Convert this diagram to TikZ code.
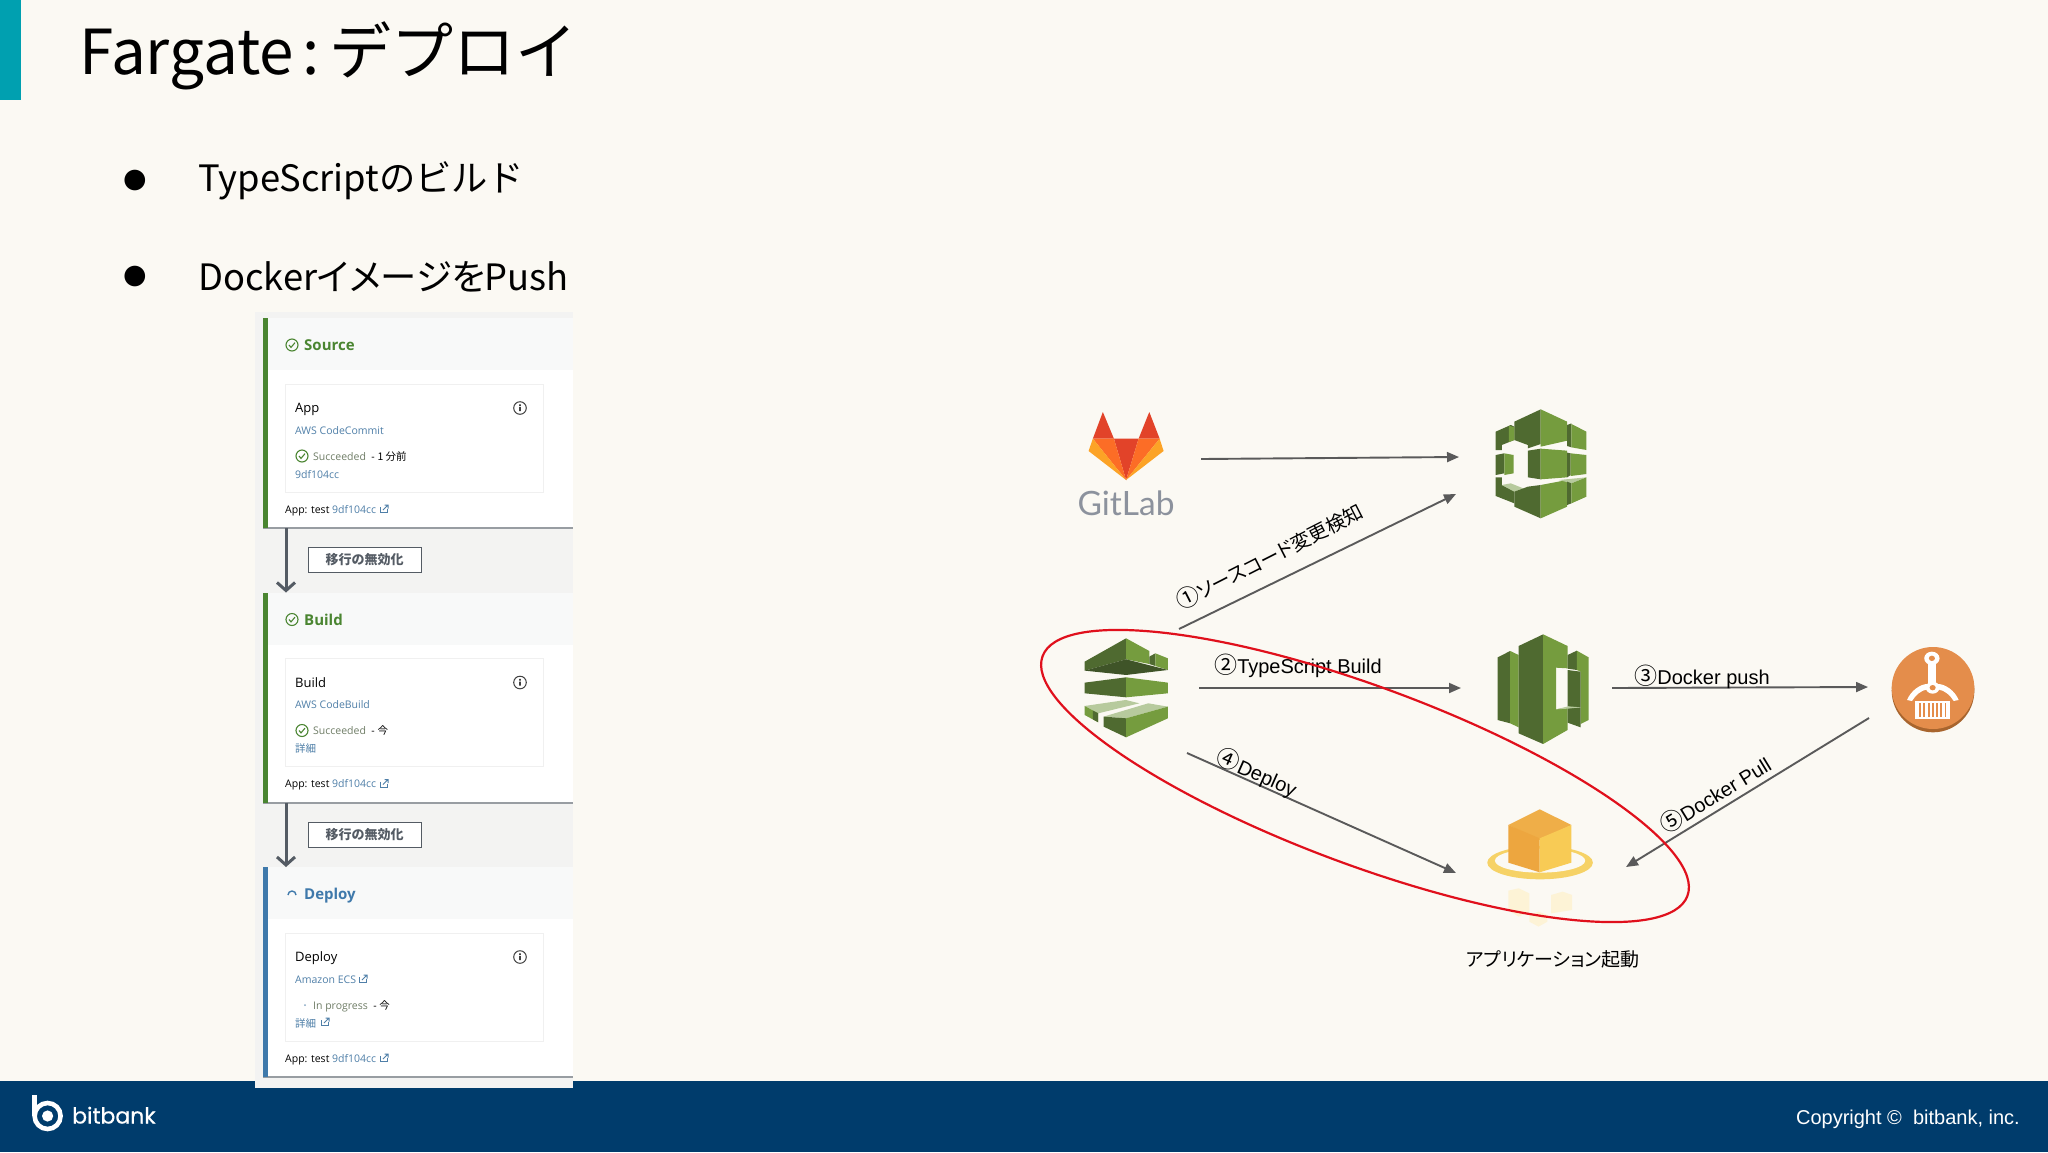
\documentclass[tikz,border=0pt]{standalone}
\usepackage{fontspec}
\usetikzlibrary{arrows.meta,shapes.geometric}
\setmainfont{Liberation Sans}
\newfontfamily\jpfont{Noto Sans CJK JP}
\newfontfamily\jppfont[RawFeature=+palt]{Noto Sans CJK JP}
\newfontfamily\uifont{Open Sans}
\newfontfamily\logofont[FakeBold=.5]{Poppins}
\newfontfamily\gitfont{Lato}
\newfontfamily\symfont{DejaVu Sans}
\newcommand{\fs}[1]{\fontsize{#1}{#1}\selectfont}
\newcommand{\jp}[1]{{\jppfont #1}}
\newcommand{\num}[1]{{\jpfont\fs{23}#1}}
\newcommand{\facet}[2]{\fill[#1] #2 -- cycle;}
\definecolor{paper}{HTML}{FBF9F3}
\definecolor{teal}{HTML}{00A0B0}
\definecolor{navy}{HTML}{003C6C}
\definecolor{panelshade}{HTML}{F3F3F2}
\definecolor{headfill}{HTML}{F8F9F9}
\definecolor{stagegreen}{HTML}{4A8531}
\definecolor{stageblue}{HTML}{3F79AB}
\definecolor{linkblue}{HTML}{4F7FA8}
\definecolor{okgray}{HTML}{6F7D66}
\definecolor{uigray}{HTML}{545B64}
\definecolor{flowgray}{HTML}{5A5A5A}
\definecolor{gitgray}{HTML}{8C929D}
\definecolor{leaflight}{HTML}{759C3E}
\definecolor{leafdark}{HTML}{4F6A30}
\definecolor{leafdeep}{HTML}{3F5428}
\definecolor{leafpale}{HTML}{B7CA9D}
\definecolor{foxred}{HTML}{E24329}
\definecolor{foxmid}{HTML}{FC6D26}
\definecolor{foxpale}{HTML}{FCA326}
\definecolor{robot}{HTML}{E48D4B}
\definecolor{robotdark}{HTML}{A8652E}
\definecolor{cubetop}{HTML}{EFAE48}
\definecolor{cubeleft}{HTML}{EDA63F}
\definecolor{cuberight}{HTML}{F8CB55}
\definecolor{halo}{HTML}{F6D266}
\definecolor{fade}{HTML}{FDF3D6}
\definecolor{ringred}{HTML}{E0101C}
\tikzset{
  flow/.style={draw=flowgray,line width=1.9pt,-{Triangle[length=12pt,width=10pt]}},
  flowtext/.style={inner sep=0pt,black},
  uitext/.style={inner sep=0pt,anchor=base west,font=\uifont\fs{10.5}},
  okmark/.pic={\draw[stagegreen,line width=1.1pt] (0,0) circle (6);
    \draw[stagegreen,line width=1.1pt] (-3,0) -- (-1,2.4) -- (3,-2.4);},
  infomark/.pic={\draw[black!75,line width=1pt] (0,0) circle (6.3);
    \fill[black!75] (-.9,-1) rectangle (.9,3.2) (-.9,-3.6) rectangle (.9,-2);},
  extmark/.pic={\draw[linkblue,line width=1pt] (-3.5,-2) -- (-3.5,3.5) -- (3.5,3.5) -- (3.5,0);
    \draw[linkblue,line width=1pt] (-1,1) -- (4,-4) (.5,-4) -- (4,-4) -- (4,-.5);}
}
\begin{document}
\begin{tikzpicture}[x=1pt,y=-1pt]
\useasboundingbox (0,0) rectangle (2048,1152);
\pgfmathsetmacro{\kstep}{274.5}
\fill[paper] (0,0) rectangle (2048,1152);
\fill[teal] (0,0) rectangle (21,100);
\fill[navy] (0,1081) rectangle (2048,1152);
% heading
\node[inner sep=0pt,anchor=west,font=\jpfont\fs{62}] (title) at (79,56) {Fargate\hspace{9pt}:\hspace{9pt}デプロイ};
\foreach \n/\y/\t in {a/181/{\jpfont TypeScriptのビルド},b/276.5/{\jpfont Docker\jppfont イメージを\jpfont Push}}{
  \node[inner sep=0pt,font=\symfont\fs{27}] (dot\n) at (135,\y) {●};
  \node[inner sep=0pt,anchor=west,font=\fs{36.3}] (item\n) at (198,\y) {\t};
}
% pipeline screenshot
\fill[panelshade] (255,312) rectangle (573,1088);
\foreach \i/\col/\head/\card/\svc/\stat/\ref in {
  0/stagegreen/Source/App/AWS CodeCommit/{{\color{okgray}Succeeded}\ \ - \jp{1 分前}}/9df104cc,
  1/stagegreen/Build/Build/AWS CodeBuild/{{\color{okgray}Succeeded}\ \ - \jp{今}}/\jp{詳細},
  2/stageblue/Deploy/Deploy/Amazon ECS/{{\color{okgray}In progress}\ \ - \jp{今}}/\jp{詳細}}{
  \pgfmathsetmacro{\y}{\i*\kstep}
  \fill[headfill] (263,318+\y) rectangle (573,370+\y);
  \fill[white] (263,370+\y) rectangle (573,527+\y);
  \fill[uigray!60] (263,527+\y) rectangle (573,529+\y);
  \fill[\col] (263,318+\y) rectangle (268,528+\y);
  \draw[black!6,fill=white] (285,384+\y) rectangle (543,492+\y);
  \coordinate (stagetop\i) at (286,318+\y);
  \coordinate (stageout\i) at (286,528+\y);
  \node[uitext,font=\uifont\bfseries\fs{15},text=\col] (head\i) at (304,350.5+\y) {\head};
  \node[uitext,font=\uifont\fs{13}] (card\i) at (295,412.5+\y) {\card};
  \node[uitext,font=\uifont\fs{10.5},text=linkblue] (svc\i) at (295,434+\y) {\svc};
  \node[uitext] (stat\i) at (313,460+\y) {\stat};
  \node[uitext,text=linkblue] (ref\i) at (295,478+\y) {\ref};
  \node[uitext] (src\i) at (285,513+\y) {App: test {\color{linkblue}9df104cc}};
  \pic at (520,408+\y) {infomark};
  \pic at (384,509+\y) {extmark};
}
\foreach \i/\j in {0/1,1/2}{
  \pgfmathsetmacro{\y}{\i*\kstep}
  \node[draw=uigray,fill=white,inner sep=0pt,minimum width=113pt,minimum height=25pt,text=uigray,font=\jpfont\bfseries\fs{13}] (skip\i) at (364.5,560+\y) {移行の無効化};
  \draw[uigray,line width=3pt,-{Straight Barb[length=8pt,width=18pt,line width=3pt]}] (stageout\i) -- (stagetop\j);
}
\pic at (292,345) {okmark};
\pic at (292,619.5) {okmark};
\pic at (302,456) {okmark};
\pic at (302,730.5) {okmark};
\draw[stageblue,line width=1.4pt] (288,895) arc (180:360:4);
\fill[linkblue!70] (305,1005) circle (1);
\pic at (363,979) {extmark};
\pic at (325,1022) {extmark};
% footer
\draw[white,line width=4.6pt] (47.6,1116) circle (13);
\fill[white] (32.3,1095) rectangle (36.8,1116);
\fill[white] (47.6,1116) circle (5.6);
\node[inner sep=0pt,anchor=base west,text=white,font=\logofont\fs{22}] (brand) at (72,1123.5) {bitbank};
\node[inner sep=0pt,anchor=east,text=white,font=\fs{20}] (copyright) at (2020,1119) {Copyright ©\ \ bitbank, inc.};
% gitlab, commit and deploy icons
\begin{scope}[shift={(1050,390)},x=.35714pt,y=-.3333pt]
\facet{foxred}{(148,66)--(179,146)--(120,146)}
\facet{foxred}{(278,66)--(248,146)--(307,146)}
\facet{foxred}{(179,146)--(248,146)--(213,270)}
\facet{foxmid}{(120,146)--(179,146)--(213,270)}
\facet{foxmid}{(307,146)--(248,146)--(213,270)}
\facet{foxpale}{(120,146)--(108,183)--(213,270)}
\facet{foxpale}{(307,146)--(318,183)--(213,270)}
% commit
\facet{leafdark}{(1300,95)--(1374,58)--(1374,162)--(1338,175)--(1338,165)--(1300,150)}
\facet{leaflight}{(1374,58)--(1448,95)--(1448,152)--(1374,170)}
\facet{leafdark}{(1248,125)--(1290,105)--(1300,110)--(1300,150)--(1265,165)--(1265,180)--(1248,180)}
\facet{leaflight}{(1285,107)--(1300,112)--(1300,150)--(1285,156)}
\facet{leafdark}{(1448,105)--(1460,100)--(1460,172)--(1448,168)}
\facet{leaflight}{(1460,102)--(1502,125)--(1502,180)--(1460,172)}
\facet{leafdark}{(1248,195)--(1272,190)--(1272,250)--(1248,255)}
\facet{leaflight}{(1272,190)--(1298,195)--(1298,250)--(1272,255)}
\facet{leafdark}{(1338,182)--(1374,176)--(1374,268)--(1338,262)}
\facet{leaflight}{(1374,176)--(1448,182)--(1448,262)--(1374,268)}
\facet{leafdark}{(1448,188)--(1458,190)--(1458,255)--(1448,262)}
\facet{leaflight}{(1458,190)--(1502,195)--(1502,252)--(1458,258)}
\facet{leafdark}{(1248,262)--(1265,262)--(1265,285)--(1300,303)--(1300,340)--(1248,318)}
\facet{leafpale}{(1265,285)--(1290,280)--(1325,295)--(1300,305)}
\facet{leafdark}{(1300,305)--(1338,290)--(1374,285)--(1374,385)--(1300,350)}
\facet{leaflight}{(1374,285)--(1448,270)--(1448,350)--(1374,385)}
\facet{leafpale}{(1425,270)--(1502,262)--(1460,280)}
\facet{leafdark}{(1448,275)--(1460,280)--(1460,340)--(1448,345)}
\facet{leaflight}{(1460,280)--(1502,262)--(1502,320)--(1460,340)}
% deploy
\facet{leafdark}{(97,815)--(213,745)--(213,808)--(97,842)}
\facet{leaflight}{(213,745)--(278,783)--(278,822)--(213,808)}
\facet{leafdark}{(278,800)--(295,790)--(295,828)--(278,822)}
\facet{leaflight}{(295,790)--(330,805)--(330,840)--(295,828)}
\facet{leafdeep}{(97,842)--(213,808)--(330,840)--(213,855)}
\facet{leafdark}{(97,878)--(213,862)--(213,922)--(97,910)}
\facet{leaflight}{(213,862)--(330,878)--(330,910)--(213,922)}
\facet{leafpale}{(97,948)--(212,930)--(250,940)--(135,970)}
\facet{leaflight}{(97,948)--(135,970)--(135,997)--(97,975)}
\facet{leafdark}{(120,962)--(135,970)--(135,997)--(120,988)}
\facet{leafpale}{(150,980)--(275,940)--(330,950)--(213,985)}
\facet{leafdark}{(150,980)--(213,985)--(213,1042)--(150,1010)}
\facet{leaflight}{(213,985)--(330,950)--(330,985)--(213,1042)}
\end{scope}
\node[inner sep=0pt,text=gitgray,font=\gitfont\fs{33.5}] (gitlab) at (1126,503) {GitLab};
% build, robot and cube icons
\begin{scope}[shift={(1400,620)},x=.38265pt,y=-.3333pt]
\facet{leafdark}{(255,112)--(288,93)--(288,310)--(255,300)}
\facet{leaflight}{(288,93)--(310,105)--(310,322)--(288,310)}
\facet{leafdark}{(310,78)--(374,43)--(374,372)--(310,340)}
\facet{leaflight}{(374,43)--(438,78)--(438,145)--(408,143)--(408,268)--(438,262)--(438,330)--(374,372)}
\facet{leafdark}{(438,105)--(462,92)--(462,150)--(438,146)}
\facet{leaflight}{(462,92)--(493,112)--(493,300)--(472,312)--(472,155)--(462,150)}
\facet{leafdark}{(438,150)--(472,155)--(472,262)--(438,260)}
\facet{leafdark}{(438,262)--(472,262)--(472,322)--(438,308)}
\facet{leafpale}{(408,268)--(440,259)--(472,262)--(438,266)}
\fill[robotdark] (1393,212) ellipse [x radius=108,y radius=125];
\fill[robot] (1393,204) ellipse [x radius=108,y radius=123];
\fill[white] (1380,125) rectangle (1402,195);
\fill[white] (1390,115) circle (20);
\fill[robot] (1390,115) circle (8);
\fill[white] (1325,240) .. controls (1335,212) and (1360,192) .. (1378,192) -- (1378,208) .. controls (1360,212) and (1348,225) .. (1338,243) -- cycle;
\fill[white] (1460,240) .. controls (1450,212) and (1425,192) .. (1406,192) -- (1406,208) .. controls (1425,212) and (1437,225) .. (1447,243) -- cycle;
\fill[white] (1392,203) circle (18);
\fill[robot] (1392,203) circle (8);
\fill[white] (1347,243) rectangle (1437,297);
\foreach \x in {1357,1368,...,1430}{\fill[robot] (\x,250) rectangle (\x+5,290);}
\fill[halo] (366,728) ellipse [x radius=138,y radius=50];
\fill[paper] (366,722) ellipse [x radius=118,y radius=36];
\facet{cubetop}{(283,615)--(365,568)--(448,615)--(365,660)}
\facet{cubeleft}{(283,615)--(365,655)--(365,757)--(283,728)}
\facet{cuberight}{(365,655)--(448,615)--(448,728)--(365,757)}
\facet{fade}{(283,812)--(310,805)--(338,820)--(338,875)--(310,890)--(283,870)}
\facet{fade}{(395,825)--(425,815)--(450,825)--(450,870)--(395,880)}
\facet{fade}{(338,885)--(362,875)--(385,885)--(385,905)--(362,920)--(338,905)}
\end{scope}
% flow ends
\coordinate (gitlabout) at (1201,459);
\coordinate (commitin) at (1459,457);
\coordinate (deploytop) at (1179,629);
\coordinate (commitlow) at (1456,494);
\coordinate (deployout) at (1199,688);
\coordinate (buildin) at (1461,688);
\coordinate (buildout) at (1612,688);
\coordinate (robotin) at (1868,687);
\coordinate (robotout) at (1869,718);
\coordinate (cubein) at (1626,867);
\coordinate (deploylow) at (1187,753);
\coordinate (cubeleft) at (1456,873);
\draw[flow] (gitlabout) -- (commitin);
\draw[flow] (deploytop) -- (commitlow);
\draw[flow] (deployout) -- (buildin);
\draw[flow] (buildout) -- (robotin);
\draw[flow] (robotout) -- (cubein);
\draw[flow] (deploylow) -- (cubeleft);
% flow labels
\node[flowtext,rotate=27,font=\jppfont\fs{19.5}] (step1) at (1269,556) {\num{①}ソースコード変更検知};
\node[flowtext,font=\fs{20}] (step2) at (1298,666) {\num{②}TypeScript Build};
\node[flowtext,font=\fs{20}] (step3) at (1702,677) {\num{③}Docker push};
\node[flowtext,rotate=-24,font=\fs{20}] (step4) at (1257,773) {\num{④}Deploy};
\node[flowtext,rotate=31.5,font=\fs{20}] (step5) at (1715,794) {\num{⑤}Docker Pull};
\node[flowtext,font=\jppfont\fs{19}] (boot) at (1553,959) {アプリケーション起動};
\node[draw=ringred,line width=2.2pt,ellipse,inner sep=0pt,minimum width=688pt,minimum height=178pt,rotate=-20.4] (scope) at (1365,776) {};
\end{tikzpicture}
\end{document}
